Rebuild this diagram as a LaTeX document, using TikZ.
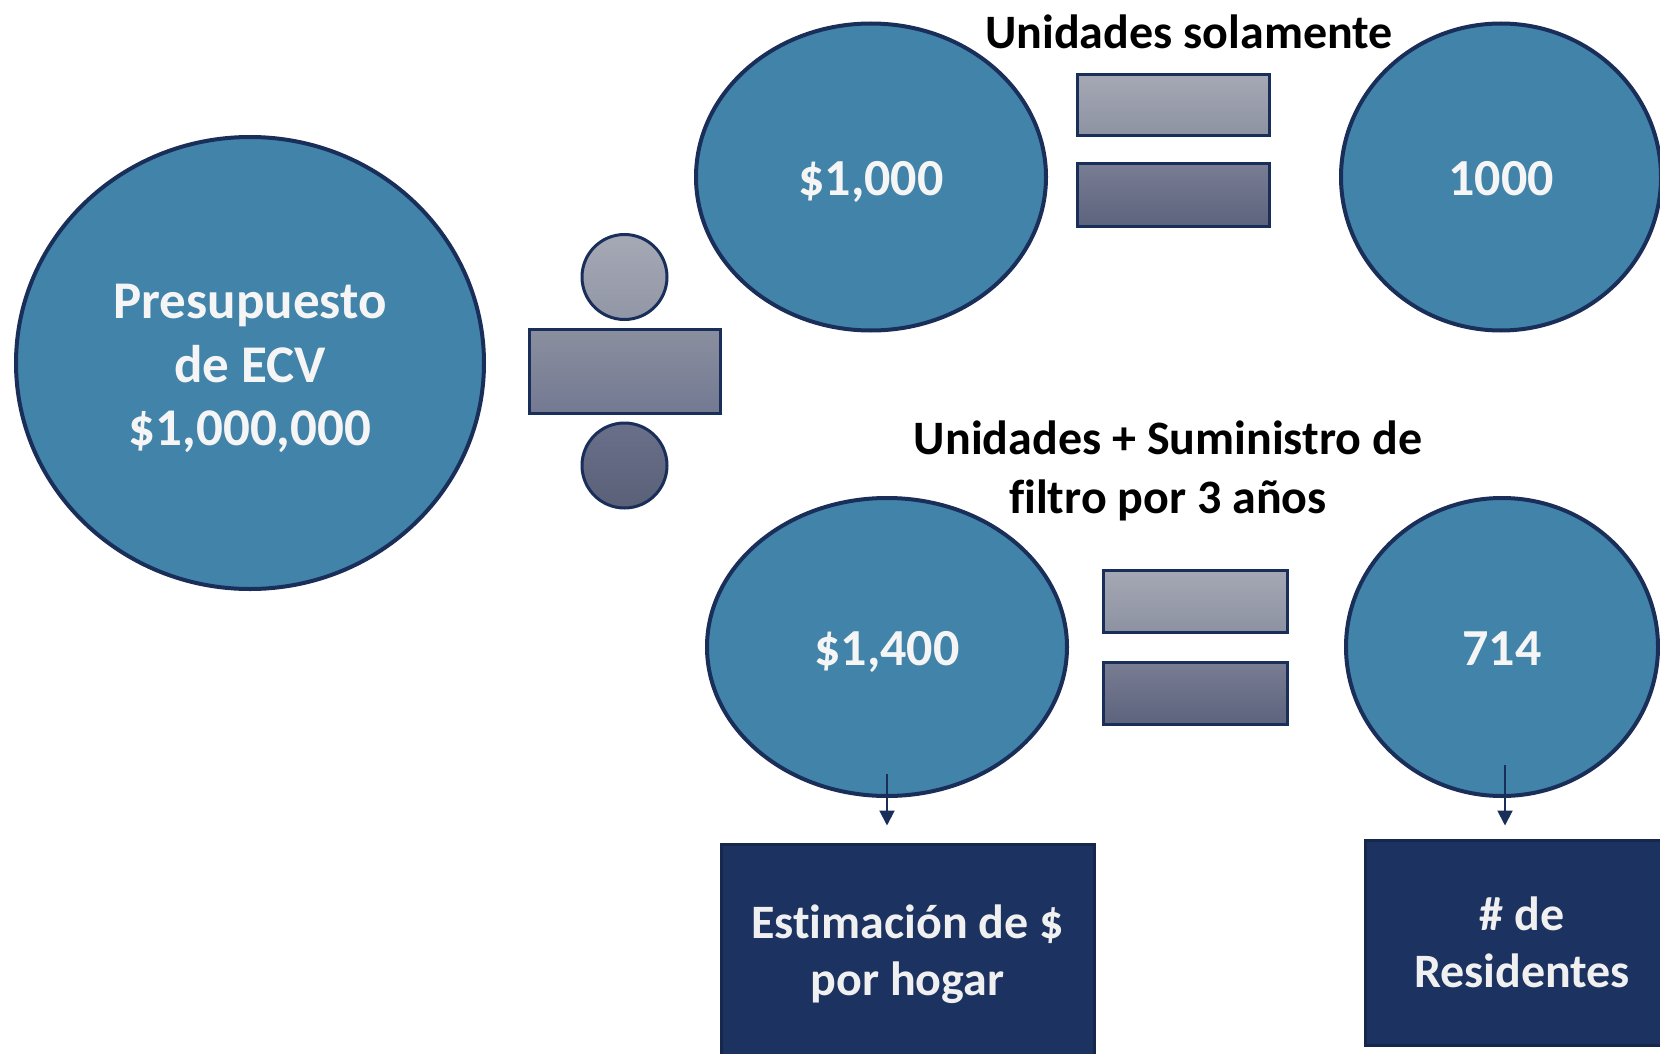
\documentclass[tikz,border=0pt]{standalone}
\usepackage{fontspec}
\setmainfont{Carlito}[Ligatures=NoCommon]
\usetikzlibrary{shapes.geometric,arrows.meta}
\definecolor{ecvblue}{HTML}{4283A9}
\definecolor{ecvnavy}{HTML}{1A2E5A}
\definecolor{ecvbox}{HTML}{1C3260}
\definecolor{gradA}{RGB}{166,169,181}
\definecolor{gradB}{RGB}{145,150,166}
\definecolor{gradC}{RGB}{138,143,159}
\definecolor{gradD}{RGB}{115,121,146}
\definecolor{gradE}{RGB}{106,112,137}
\definecolor{gradF}{RGB}{91,96,121}
\definecolor{eqA}{RGB}{165,168,180}
\definecolor{eqB}{RGB}{141,146,162}
\definecolor{eqC}{RGB}{120,125,147}
\definecolor{eqD}{RGB}{93,99,125}
\tikzset{
  bubble/.style={ellipse,draw=ecvnavy,line width=2pt,fill=ecvblue,text=white!96!black,
    font=\bfseries\fontsize{26}{31}\selectfont,inner sep=0pt,align=center,
    text height=18pt,text depth=0pt},
  result/.style={rectangle,draw=ecvnavy!85!black,line width=1.5pt,fill=ecvbox,text=white!94!black,
    font=\bfseries\fontsize{24}{28.5}\selectfont,inner sep=0pt,align=center},
  opbar/.style={rectangle,draw=ecvnavy,line width=1.5pt,inner sep=0pt},
  opdot/.style={circle,draw=ecvnavy,line width=1.5pt,inner sep=0pt,minimum size=42.5pt},
  caption/.style={font=\bfseries\fontsize{24}{29.5}\selectfont,align=center},
  arr/.style={-{Triangle[length=7.5pt,width=7.5pt]},draw=ecvnavy,line width=1pt}
}
\begin{document}
\begin{tikzpicture}[x=0.5pt,y=-0.5pt]
\clip(0,0) rectangle (1660,1054);
\fill[white](0,0) rectangle (1660,1054);
%budget
\node[bubble,minimum width=234pt,minimum height=226pt,text height=,text depth=,
  font=\bfseries\fontsize{26.5}{31.75}\selectfont]
  (budget) at (250,363) {\rule{0pt}{23pt}Presupuesto\\de ECV\\\$1,000,000};
%divide sign
\node[opdot,top color=gradA,bottom color=gradB] (divtop) at (624.5,277) {};
\node[opbar,minimum width=95.5pt,minimum height=42pt,top color=gradC,bottom color=gradD]
  (divbar) at (624.5,371) {};
\node[opdot,top color=gradE,bottom color=gradF] (divbot) at (624.5,465.5) {};
%units only
\node[caption] (title1) at (1189,32) {Unidades solamente};
\node[bubble,minimum width=175pt,minimum height=153.5pt] (unitcost) at (871,177) {\$1,000};
\node[opbar,minimum width=96pt,minimum height=30.5pt,top color=eqA,bottom color=eqB]
  (eqtop) at (1173,105.5) {};
\node[opbar,minimum width=96pt,minimum height=31pt,top color=eqC,bottom color=eqD]
  (eqbot) at (1173,195) {};
\node[bubble,minimum width=160pt,minimum height=153.5pt] (units) at (1501,177) {1000};
%units + filters
\node[caption] (title2) at (1168,471) {Unidades + Suministro de\\filtro por 3 años};
\node[bubble,minimum width=180pt,minimum height=149pt] (fullcost) at (887,647) {\$1,400};
\node[opbar,minimum width=92pt,minimum height=31pt,top color=eqA,bottom color=eqB]
  (eqtop2) at (1195,601) {};
\node[opbar,minimum width=92pt,minimum height=31pt,top color=eqC,bottom color=eqD]
  (eqbot2) at (1195,693) {};
\node[bubble,minimum width=156pt,minimum height=149pt] (residents) at (1502,647) {714};
%result boxes
\node[result,minimum width=186.5pt,minimum height=110pt] (perhome) at (907.5,954)
  {Estimación de \$\\por hogar};
\node[result,minimum width=157pt,minimum height=102.5pt] (count) at (1522,942.5)
  {\# de\\Residentes};
%arrows
\coordinate (from1) at ([yshift=12pt]fullcost.south);
\coordinate (from2) at ([xshift=1.5pt,yshift=16.5pt]residents.south);
\draw[arr,shorten >=8.5pt](from1)--(from1 |- perhome.north);
\draw[arr,shorten >=6.5pt](from2)--(from2 |- count.north);
\end{tikzpicture}
\end{document}
